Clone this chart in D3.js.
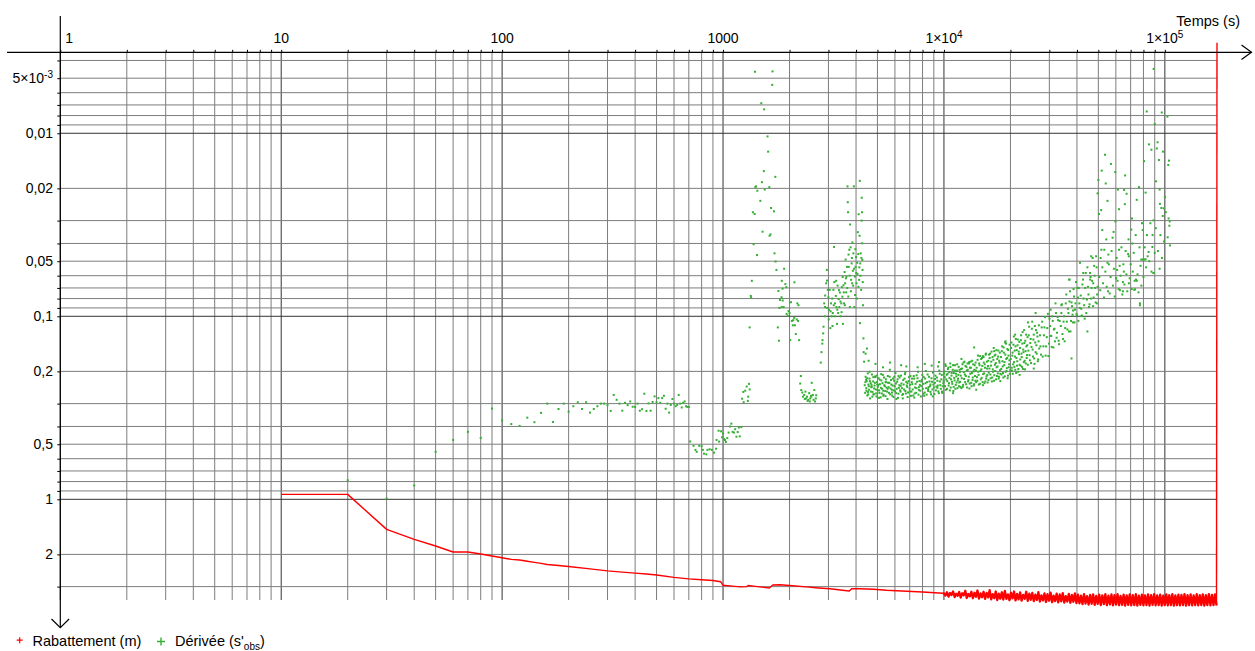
<!DOCTYPE html>
<html>
<head>
<meta charset="utf-8">
<script src="https://cdn.jsdelivr.net/npm/d3@7"></script>
<style>
  body { margin: 0; background: #fff; }
  svg { font-family: "Liberation Sans", Arial, sans-serif; display: block; }
</style>
</head>
<body>
<div id="chart"></div>
<script>
// axes
const xDomain = [1, 172200];
const yDomain = [0.00361, 3.55];
const xTickValues = [1, 10, 100, 1000, 1e4, 1e5];
const xTickLabels = ["1", "10", "100", "1000", "1×10^4", "1×10^5"];
const yTickValues = [0.005, 0.01, 0.02, 0.05, 0.1, 0.2, 0.5, 1, 2];
const yTickLabels = ["5×10^-3", "0,01", "0,02", "0,05", "0,1", "0,2", "0,5", "1", "2"];

// Rabattement (m) : [temps (s), rabattement]
const rabattementDebut = [
  [10,0.94],[20,0.94],[30,1.46],[40,1.655],[50,1.8],[60,1.94],[70,1.94],[80,1.99],[90,2.04],[100,2.085],
  [110,2.13],[120,2.145],[130,2.18],[140,2.21],[150,2.24],[160,2.27],[180,2.3],[200,2.33],[250,2.4],[300,2.46],
  [350,2.5],[400,2.53],[450,2.56],[500,2.59],[600,2.67],[700,2.72],[800,2.75],[900,2.78],[975,2.82],[1000,2.95],
  [1100,2.98],[1200,3.01],[1280,3.0],[1300,2.96],[1400,2.99],[1500,3.02],[1620,3.05],[1680,2.94],[1810,2.93],[2000,2.96],
  [2380,3.01],[2700,3.05],[3050,3.08],[3400,3.13],[3730,3.17],[3820,3.08],[4170,3.08],[4800,3.1],[5500,3.14],[6800,3.18],
  [8000,3.21],[9900,3.26]
];
const rabattementFin = [
  [10000,3.27],[10160,3.36],[10320,3.22],[10490,3.4],[10660,3.25],[10830,3.33],[11000,3.19],[11180,3.42],[11360,3.28],[11540,3.37],
  [11720,3.21],[11910,3.44],[12100,3.26],[12290,3.35],[12490,3.16],[12690,3.46],[12890,3.29],[13100,3.39],[13310,3.2],[13520,3.47],
  [13740,3.24],[13960,3.41],[14180,3.15],[14410,3.49],[14640,3.27],[14870,3.43],[15110,3.2],[15350,3.5],[15600,3.25],[15850,3.44],
  [16100,3.14],[16360,3.52],[16620,3.3],[16890,3.47],[17160,3.19],[17430,3.55],[17710,3.28],[17990,3.49],[18280,3.22],[18570,3.53],
  [18870,3.17],[19170,3.5],[19480,3.31],[19790,3.56],[20110,3.24],[20430,3.48],[20760,3.19],[21090,3.57],[21430,3.29],[21770,3.52],
  [22120,3.23],[22470,3.58],[22830,3.33],[23200,3.5],[23570,3.2],[23950,3.59],[24330,3.28],[24720,3.54],[25110,3.25],[25510,3.6],
  [25920,3.32],[26340,3.55],[26760,3.22],[27190,3.62],[27620,3.35],[28060,3.57],[28510,3.27],[28970,3.64],[29430,3.3],[29900,3.58],
  [30380,3.24],[30870,3.65],[31360,3.36],[31860,3.6],[32370,3.28],[32890,3.66],[33420,3.31],[33950,3.61],[34490,3.26],[35040,3.67],
  [35600,3.38],[36170,3.62],[36750,3.29],[37340,3.68],[37940,3.33],[38540,3.63],[39160,3.27],[39790,3.69],[40420,3.32],[41070,3.7],
  [41730,3.36],[42390,3.74],[43070,3.3],[43760,3.71],[44460,3.38],[45170,3.76],[45890,3.33],[46620,3.72],[47370,3.31],[48130,3.77],
  [48900,3.37],[49680,3.73],[50470,3.32],[51280,3.78],[52100,3.35],[52940,3.74],[53780,3.3],[54640,3.79],[55520,3.36],[56410,3.75],
  [57310,3.31],[58230,3.8],[59160,3.34],[60100,3.76],[61060,3.3],[62040,3.79],[63030,3.37],[64040,3.77],[65070,3.32],[66110,3.81],
  [67170,3.35],[68240,3.77],[69330,3.31],[70440,3.8],[71570,3.34],[72710,3.78],[73880,3.3],[75060,3.81],[76260,3.36],[77480,3.77],
  [78720,3.32],[79980,3.8],[81260,3.35],[82560,3.78],[83880,3.31],[85220,3.81],[86580,3.34],[87970,3.77],[89380,3.3],[90810,3.8],
  [92260,3.35],[93740,3.78],[95240,3.32],[96760,3.81],[98310,3.36],[99880,3.79],[101500,3.31],[103100,3.8],[104700,3.34],[106400,3.78],
  [108100,3.3],[109800,3.81],[111600,3.35],[113400,3.79],[115200,3.32],[117000,3.8],[118900,3.33],[120800,3.78],[122700,3.3],[124700,3.81],
  [126700,3.34],[128700,3.79],[130800,3.31],[132900,3.8],[135000,3.35],[137200,3.78],[139400,3.3],[141600,3.8],[143900,3.34],[146200,3.79],
  [148500,3.31],[150900,3.81],[153300,3.34],[155700,3.78],[158200,3.3],[160800,3.8],[163400,3.33],[166000,3.79],[168600,3.31],[171300,3.8],
  [172200,0.0032]
];

// Dérivée (s'obs) : [temps (s), dérivée]
const deriveeDebut = [
  [20,0.787],[30,0.99],[40,0.84],[50,0.55],[60,0.474],[70,0.428],[80,0.462],[90,0.319],[100,0.371],[110,0.388],
  [120,0.397],[130,0.358],[140,0.379],[150,0.337],[160,0.3],[170,0.378],[180,0.321],[190,0.3],[200,0.332],[210,0.31],
  [220,0.295],[230,0.321],[240,0.295],[250,0.336],[260,0.321],[270,0.31],[280,0.3],[290,0.3],[300,0.306],[310,0.329],
  [320,0.269],[330,0.286],[340,0.3],[350,0.328],[360,0.297],[370,0.306],[380,0.292],[390,0.312],[400,0.313],[410,0.3],
  [420,0.328],[430,0.322],[440,0.265],[450,0.329],[460,0.299],[470,0.328],[480,0.294],[490,0.274],[500,0.295],[510,0.28],
  [520,0.297],[530,0.28],[540,0.272],[550,0.32],[560,0.3],[570,0.336],[580,0.305],[590,0.283],[600,0.3],[610,0.31],
  [620,0.305],[630,0.269],[640,0.3],[650,0.315],[660,0.297],[670,0.292],[680,0.31],[690,0.313],[700,0.313],
  [710,0.483],[735,0.51],[750,0.537],[760,0.55],[780,0.51],[800,0.513],[810,0.537],[820,0.563],[840,0.568],[850,0.537],
  [870,0.533],[890,0.537],[910,0.556],[930,0.529],[935,0.474],[955,0.422],[960,0.484],[980,0.425],[990,0.458],[1000,0.436],
  [1010,0.469],[1020,0.474],[1030,0.486],[1045,0.463],[1060,0.432],[1075,0.4],[1090,0.386],[1105,0.428],[1120,0.432],[1135,0.414],
  [1150,0.455],[1165,0.429],[1180,0.405],[1190,0.453],[1210,0.403],[1220,0.282],[1235,0.259],[1240,0.295],[1260,0.255],[1280,0.242],
  [1295,0.29],[1300,0.275],[1310,0.234],[1320,0.251]
];
const deriveePic1 = [
  [1320,0.115],[1335,0.0774],[1340,0.079],[1350,0.064],[1365,0.027],[1375,0.0404],[1390,0.0276],[1395,0.00461],[1400,0.0197],[1410,0.0195],
  [1425,0.0463],[1430,0.0206],[1475,0.0234],[1490,0.00685],[1500,0.0185],[1510,0.0345],[1530,0.0161],[1535,0.0074],[1545,0.0203],[1590,0.0104],
  [1600,0.0126],[1620,0.0197],[1625,0.0363],[1640,0.0357],[1650,0.0256],[1670,0.00544],[1675,0.00459],[1700,0.0267],[1710,0.0453],[1725,0.0173],
  [1730,0.0502],[1745,0.0558],[1770,0.115],[1780,0.0727],[1790,0.136],[1800,0.09],[1810,0.0814],[1840,0.0787],[1842,0.089],[1845,0.064],
  [1860,0.0706],[1862,0.082],[1880,0.089],[1890,0.055],[1915,0.0667],[1935,0.0693],[1940,0.097],[1965,0.0994],[1980,0.0936],[2000,0.096],
  [2015,0.135],[2030,0.0838],[2050,0.106],[2070,0.112],[2080,0.105],[2100,0.102],[2105,0.0652],[2115,0.112],[2135,0.125],[2155,0.104],
  [2170,0.085],[2185,0.106],[2195,0.087],[2210,0.135],
  [2235,0.233],[2250,0.212],[2260,0.253],[2285,0.261],[2300,0.275],[2330,0.269],[2345,0.283],[2360,0.258],[2375,0.281],[2400,0.275],
  [2415,0.29],[2430,0.286],[2455,0.263],[2470,0.292],[2480,0.281],[2500,0.272],[2510,0.275],[2520,0.231],[2550,0.269],[2570,0.286],
  [2590,0.253],[2610,0.292],[2630,0.281],[2640,0.27]
];
const deriveePic2 = [
  [2770,0.179],[2790,0.157],[2815,0.141],[2820,0.135],[2840,0.124],[2850,0.114],[2870,0.085],[2890,0.1],[2895,0.089],[2930,0.066],
  [2950,0.0558],[2955,0.0638],[2980,0.0717],[3000,0.0787],[3020,0.0923],[3040,0.0717],[3060,0.116],[3080,0.085],[3100,0.1],[3120,0.08],
  [3140,0.096],[3160,0.0717],[3180,0.0418],[3190,0.065],[3210,0.085],[3240,0.0774],[3260,0.089],[3280,0.11],[3300,0.068],[3320,0.096],
  [3340,0.0805],[3360,0.089],[3380,0.0742],[3410,0.1],[3430,0.085],[3450,0.0693],[3470,0.0781],[3490,0.11],[3510,0.0677],[3530,0.085],
  [3550,0.0573],[3570,0.066],[3590,0.049],[3610,0.074],[3620,0.0607],[3640,0.0537],[3660,0.0195],[3670,0.0238],[3680,0.027],[3690,0.078],
  [3710,0.0537],[3730,0.0433],[3750,0.089],[3760,0.0315],[3780,0.042],[3800,0.0632],[3820,0.0514],[3840,0.066],[3850,0.0395],[3870,0.0564],
  [3890,0.0453],[3910,0.0195],[3930,0.089],[3950,0.0607],[3960,0.0765],[3980,0.0537],[4000,0.0475],[4020,0.066],[4040,0.08],[4060,0.0588],
  [4075,0.0347],[4095,0.0457],[4110,0.0277],[4130,0.0632],[4150,0.0363],[4160,0.0182],[4170,0.109],[4180,0.0514],[4200,0.0453],[4220,0.0717],
  [4240,0.03],[4245,0.0225],[4260,0.027],[4265,0.0399],[4270,0.0492],[4280,0.0558],[4290,0.065],[4300,0.087],[4320,0.132],[4330,0.157],
  [4350,0.177],
  [2900,0.077],[2960,0.09],[3010,0.104],[3070,0.094],[3130,0.113],[3170,0.087],[3200,0.1],[3250,0.064],[3290,0.092],[3350,0.072],
  [3400,0.083],[3440,0.095],[3480,0.061],[3520,0.074],[3560,0.087],[3600,0.062],[3650,0.07],[3700,0.046],[3740,0.06],[3790,0.073],
  [3830,0.048],[3880,0.068],[3920,0.055],[3970,0.043],[4010,0.058],[4050,0.051],[4100,0.069],[4140,0.054],[4190,0.06],[4230,0.048]
];
// plateau 4 400 s - 10 000 s
const deriveePalier = [
  [4380,0.238],[4400,0.262],[4420,0.214],[4450,0.247],[4470,0.226],[4500,0.271],[4520,0.205],[4550,0.236],[4580,0.252],[4600,0.219],
  [4630,0.281],[4660,0.232],[4690,0.244],[4720,0.208],[4750,0.259],[4780,0.227],[4810,0.266],[4850,0.239],[4880,0.213],[4910,0.251],
  [4950,0.274],[4980,0.229],[5020,0.243],[5060,0.218],[5100,0.262],[5130,0.235],[5170,0.277],[5210,0.224],[5250,0.249],[5290,0.209],
  [5330,0.268],[5370,0.238],[5420,0.256],[5460,0.221],[5500,0.245],[5550,0.283],[5590,0.231],[5640,0.262],[5680,0.214],[5730,0.248],
  [5780,0.236],[5830,0.271],[5880,0.219],[5930,0.254],[5980,0.241],[6030,0.204],[6080,0.263],[6140,0.228],[6190,0.279],[6250,0.246],
  [6300,0.216],[6360,0.258],[6420,0.233],[6480,0.269],[6540,0.223],[6600,0.251],[6660,0.207],[6720,0.264],[6790,0.239],[6850,0.276],
  [6920,0.226],[6990,0.248],[7050,0.212],[7120,0.258],[7190,0.235],[7260,0.271],[7330,0.219],[7400,0.245],[7480,0.262],[7550,0.228],
  [7630,0.201],[7700,0.253],[7780,0.237],[7860,0.274],[7940,0.222],[8020,0.249],[8100,0.215],[8180,0.261],[8260,0.232],[8350,0.268],
  [8430,0.208],[8520,0.244],[8600,0.227],[8690,0.259],[8780,0.218],[8870,0.251],[8960,0.236],[9050,0.266],[9150,0.211],[9240,0.242],
  [9340,0.225],[9430,0.257],[9530,0.198],[9630,0.238],[9730,0.221],[9830,0.262],[9930,0.232],[10000,0.205],
  [4410,0.229],[4460,0.255],[4490,0.218],[4540,0.267],[4570,0.241],[4620,0.226],[4670,0.258],[4700,0.237],[4740,0.275],[4790,0.215],
  [4830,0.248],[4870,0.231],[4930,0.264],[4970,0.211],[5000,0.253],[5040,0.237],[5080,0.279],[5120,0.222],[5190,0.246],[5230,0.264],
  [5270,0.232],[5310,0.255],[5350,0.216],[5400,0.241],[5440,0.273],[5480,0.229],[5530,0.258],[5570,0.212],[5620,0.244],[5660,0.231],
  [5710,0.267],[5760,0.223],[5810,0.252],[5860,0.239],[5910,0.276],[5960,0.214],[6010,0.257],[6060,0.233],[6110,0.249],[6170,0.221],
  [6220,0.265],[6280,0.238],[6330,0.254],[6390,0.211],[6450,0.247],[6510,0.281],[6570,0.236],[6630,0.219],[6690,0.256],[6750,0.228],
  [6820,0.243],[6880,0.261],[6950,0.215],[7020,0.237],[7090,0.272],[7150,0.229],[7220,0.251],[7300,0.212],[7370,0.264],[7440,0.234],
  [7510,0.247],[7590,0.218],[7670,0.268],[7740,0.226],[7820,0.255],[7900,0.241],[7980,0.209],[8060,0.234],[8140,0.272],[8220,0.219],
  [8310,0.247],[8390,0.229],[8480,0.256],[8560,0.214],[8650,0.241],[8740,0.267],[8830,0.228],[8920,0.203],[9010,0.245],[9100,0.231],
  [9190,0.254],[9290,0.216],[9380,0.239],[9480,0.263],[9580,0.227],[9680,0.249],[9780,0.209],[9880,0.241],[9970,0.225],
  [4440,0.222],[4530,0.259],[4610,0.201],[4710,0.243],[4800,0.268],[4890,0.215],[4990,0.236],[5090,0.254],[5200,0.207],[5320,0.272],
  [5440,0.229],[5560,0.249],[5690,0.196],[5820,0.261],[5950,0.225],[6090,0.283],[6230,0.212],[6370,0.24],[6520,0.266],[6680,0.203],
  [6840,0.232],[7000,0.257],[7170,0.219],[7340,0.278],[7520,0.21],[7700,0.244],[7890,0.227],[8080,0.265],[8280,0.199],[8480,0.25],
  [8690,0.236],[8900,0.274],[9120,0.22],[9340,0.246],[9570,0.206],[9800,0.258],
  [4420,0.16],[4480,0.15],[4560,0.175],[4900,0.182],[5300,0.19],[5700,0.179],[6760,0.188],[8190,0.182],[6400,0.185],[7600,0.19],
  [8800,0.186],[9400,0.188],[9500,0.178]
];
// 10 000 s - 27 000 s
const deriveeRemontee = [
  [10050,0.2],[10110,0.241],[10190,0.187],[10240,0.221],[10330,0.249],[10380,0.206],[10460,0.191],[10540,0.232],[10590,0.217],[10680,0.181],
  [10730,0.245],[10820,0.211],[10870,0.228],[10960,0.196],[11030,0.256],[11090,0.204],[11170,0.224],[11220,0.185],[11310,0.237],[11370,0.213],
  [11440,0.198],[11520,0.247],[11580,0.219],[11660,0.189],[11730,0.23],[11810,0.202],[11870,0.243],[11950,0.194],
  [10080,0.215],[10150,0.183],[10210,0.252],[10290,0.209],[10350,0.226],[10420,0.194],[10500,0.239],[10560,0.202],[10630,0.254],[10700,0.189],
  [10770,0.221],[10840,0.204],[10910,0.234],[10990,0.185],[11060,0.243],[11130,0.217],[11200,0.198],[11260,0.249],[11340,0.206],[11410,0.23],
  [11480,0.183],[11550,0.224],[11620,0.209],[11690,0.241],[11770,0.196],[11840,0.228],[11910,0.211],[11990,0.247],
  [12040,0.218],[12130,0.183],[12210,0.237],[12300,0.202],[12390,0.177],[12470,0.229],[12560,0.212],[12640,0.189],[12730,0.245],[12820,0.196],
  [12900,0.223],[12990,0.181],[13080,0.233],[13160,0.206],[13250,0.191],[13340,0.241],[13420,0.175],[13510,0.216],[13600,0.2],[13690,0.235],
  [13780,0.185],[13870,0.225],[13950,0.198],
  [12080,0.193],[12170,0.243],[12260,0.179],[12340,0.22],[12430,0.208],[12520,0.187],[12600,0.235],[12690,0.198],[12780,0.181],[12860,0.227],
  [12950,0.214],[13040,0.248],[13120,0.191],[13210,0.177],[13290,0.231],[13380,0.204],[13470,0.223],[13560,0.183],[13640,0.239],[13730,0.196],
  [13820,0.212],[13910,0.179],[13990,0.229],
  [14060,0.191],[14160,0.225],[14250,0.164],[14350,0.209],[14440,0.181],[14540,0.234],[14630,0.199],[14730,0.171],[14820,0.217],[14920,0.187],
  [15010,0.238],[15110,0.167],[15200,0.205],[15300,0.183],[15390,0.227],[15490,0.16],[15580,0.213],[15680,0.193],[15770,0.23],[15870,0.175],
  [15960,0.203],
  [14110,0.215],[14200,0.173],[14300,0.201],[14390,0.236],[14490,0.185],[14580,0.165],[14680,0.221],[14770,0.195],[14870,0.169],[14960,0.229],
  [15060,0.207],[15150,0.179],[15250,0.232],[15340,0.191],[15440,0.162],[15530,0.219],[15630,0.177],[15720,0.209],[15820,0.187],[15910,0.223],
  [16060,0.193],[16170,0.16],[16270,0.218],[16380,0.177],[16480,0.227],[16590,0.167],[16690,0.201],[16800,0.149],[16900,0.21],[17010,0.184],
  [17110,0.162],[17220,0.221],[17320,0.19],[17430,0.171],[17530,0.205],[17640,0.154],[17740,0.214],[17850,0.179],[17950,0.197],
  [16110,0.169],[16220,0.208],[16320,0.186],[16430,0.156],[16530,0.216],[16640,0.195],[16740,0.173],[16850,0.225],[16950,0.164],[17060,0.199],
  [17160,0.18],[17270,0.153],[17370,0.212],[17480,0.188],[17580,0.166],[17690,0.219],[17790,0.175],[17900,0.158],[18000,0.206],
  [18110,0.167],[18220,0.208],[18340,0.146],[18450,0.188],[18570,0.216],[18680,0.158],[18800,0.178],[18910,0.139],[19030,0.201],[19140,0.171],
  [19260,0.192],[19370,0.151],[19490,0.211],[19600,0.164],[19720,0.183],[19830,0.143],[19950,0.197],
  [18170,0.194],[18280,0.155],[18400,0.176],[18510,0.204],[18630,0.148],[18740,0.185],[18860,0.213],[18970,0.162],[19090,0.141],[19200,0.199],
  [19320,0.169],[19430,0.218],[19550,0.153],[19660,0.19],[19780,0.174],[19890,0.206],
  [20070,0.171],[20200,0.139],[20320,0.198],[20450,0.158],[20580,0.183],[20710,0.129],[20840,0.189],[20960,0.166],[21090,0.146],[21220,0.204],
  [21350,0.153],[21480,0.176],[21600,0.134],[21730,0.194],[21860,0.161],[21990,0.184],
  [20130,0.149],[20260,0.191],[20390,0.164],[20510,0.206],[20640,0.143],[20770,0.178],[20900,0.154],[21030,0.196],[21160,0.133],[21280,0.169],
  [21410,0.186],[21540,0.144],[21670,0.201],[21800,0.156],[21930,0.138],
  [22080,0.149],[22220,0.186],[22360,0.127],[22500,0.167],[22640,0.141],[22780,0.194],[22920,0.157],[23060,0.119],[23200,0.175],[23340,0.136],
  [23480,0.181],[23620,0.146],[23760,0.163],[23900,0.13],
  [22150,0.172],[22290,0.135],[22430,0.16],[22570,0.189],[22710,0.122],[22850,0.152],[22990,0.178],[23130,0.14],[23270,0.195],[23410,0.155],
  [23550,0.126],[23690,0.169],[23830,0.144],[23970,0.184],
  [24100,0.154],[24300,0.114],[24500,0.174],[24700,0.133],[24900,0.147],[25100,0.107],[25300,0.166],[25500,0.126],[25700,0.182],[25900,0.139],
  [26100,0.119],[26300,0.16],[26500,0.129],[26700,0.172],[26900,0.112],
  [24200,0.127],[24400,0.163],[24600,0.14],[24800,0.18],[25000,0.117],[25200,0.152],[25400,0.134],[25600,0.17],[25800,0.113],[26000,0.157],
  [26200,0.144],[26400,0.123],[26600,0.176],[26800,0.137],[27000,0.15],
  [11000,0.263],[12000,0.171],[13000,0.178],[13700,0.148],[14000,0.252],[15000,0.165],[16000,0.162],[16900,0.155],[18000,0.226],[19000,0.137],
  [21000,0.126],[22000,0.209],[24000,0.108],[25500,0.193],[26000,0.096]
];
// 27 000 s - fin
const deriveeMontee = [
  [27200,0.127],[27500,0.162],[27850,0.107],[28200,0.146],[28500,0.115],[28850,0.164],[29200,0.13],[29550,0.097],[29900,0.141],[30250,0.113],
  [30600,0.128],[30950,0.1],[31300,0.148],[31650,0.117],[32000,0.085],[32350,0.131],[32700,0.101],[33050,0.136],[33400,0.106],
  [27350,0.146],[27700,0.115],[28000,0.166],[28350,0.127],[28700,0.101],[29000,0.146],[29350,0.116],[29700,0.165],[30050,0.103],[30400,0.128],
  [30750,0.147],[31100,0.106],[31450,0.118],[31800,0.137],[32150,0.096],[32500,0.123],[32850,0.105],[33200,0.142],
  [33800,0.113],[34200,0.086],[34600,0.133],[35000,0.1],[35400,0.116],[35800,0.076],[36200,0.118],[36600,0.096],[37000,0.083],[37400,0.121],
  [37800,0.084],[38200,0.098],[38600,0.071],[39000,0.108],[39400,0.085],[39800,0.097],[40200,0.07],[40600,0.106],[41000,0.085],
  [34000,0.096],[34400,0.125],[34800,0.107],[35200,0.137],[35600,0.085],[36000,0.107],[36400,0.091],[36800,0.121],[37200,0.073],[37600,0.106],
  [38000,0.088],[38400,0.108],[38800,0.078],[39200,0.092],[39600,0.065],[40000,0.099],[40400,0.079],[40800,0.07],[41200,0.09],
  [41600,0.077],[42100,0.099],[42600,0.063],[43100,0.087],[43600,0.07],[44100,0.096],[44600,0.054],[45100,0.076],[45600,0.086],[46100,0.061],
  [46600,0.07],[47100,0.048],[47600,0.079],[48100,0.06],[48600,0.084],[49100,0.054],[49600,0.069],
  [41850,0.091],[42350,0.067],[42850,0.08],[43350,0.103],[43850,0.058],[44350,0.081],[44850,0.069],[45350,0.089],[45850,0.058],[46350,0.08],
  [46850,0.064],[47350,0.088],[47850,0.053],[48350,0.07],[48850,0.047],[49350,0.076],
  [30400,0.092],[34000,0.087],[37000,0.063],[37800,0.17],[38400,0.093],[42700,0.058],[46400,0.047],[47400,0.066],[45900,0.063],[41300,0.051],
  [36900,0.063],[49200,0.085],[44600,0.121],[42000,0.0998],
  [49600,0.0213],[50000,0.018],[50300,0.0276],[51500,0.0263],[51800,0.016],[53600,0.0131],[54000,0.0188],[55000,0.0234],[57000,0.0147],[59600,0.0163],
  [61300,0.0203],[62000,0.026],[65400,0.0204],[65900,0.0244],[66100,0.017],[67100,0.0214],[74600,0.0231],[76400,0.0197],[80500,0.0142],[81800,0.0211],
  [82800,0.0076],[84700,0.0115],[86900,0.0123],[88800,0.0299],[89000,0.00445],[90000,0.0089],[91300,0.0183],[92000,0.0121],[92700,0.0112],[94000,0.014],
  [94700,0.0203],[95000,0.0243],[96400,0.0256],[96800,0.0077],[97800,0.0283],[98800,0.0257],[100000,0.0223],[102700,0.0081],[103600,0.0149],[104000,0.0292],
  [104400,0.0141],[105200,0.0303],[98000,0.0126],[71000,0.0292],[59700,0.0303],[58600,0.0346],[58000,0.0372],[54300,0.038],[51600,0.0433],[52100,0.0338],
  [70500,0.0336],[79400,0.0338],[87800,0.0418],[84400,0.0445],[94700,0.055],[88800,0.058],[81800,0.0488],[79200,0.049],[77100,0.087],[73300,0.0712],
  [64600,0.065],[74600,0.064],[78300,0.068],[60100,0.062],[68700,0.047],[71300,0.04],[62000,0.0433],[55000,0.051],[60800,0.0558],[52100,0.054],
  [53200,0.0433],[55500,0.046],[55300,0.073],[60200,0.062],[62600,0.072],[64600,0.073],[65200,0.057],[68200,0.0457],[68700,0.066],[72700,0.0717],
  [74000,0.063],[77100,0.085],[78200,0.049],[80800,0.049],[83600,0.047],[89000,0.058],
  [50500,0.061],[51000,0.072],[51200,0.048],[52500,0.066],[53000,0.079],[53800,0.057],[54500,0.069],[55800,0.052],[56300,0.075],[56800,0.061],
  [57400,0.044],[58200,0.068],[58800,0.055],[59300,0.078],[60500,0.048],[61000,0.064],[61800,0.071],[62400,0.053],[63000,0.06],[63600,0.042],
  [64200,0.076],[64900,0.052],[65600,0.067],[66400,0.044],[67000,0.059],[67600,0.073],[68500,0.038],[69300,0.062],[70000,0.052],[70800,0.071],
  [71600,0.057],[72300,0.045],[73000,0.064],[73800,0.036],[75200,0.059],[76000,0.074],[76800,0.042],[77600,0.053],[78800,0.031],[80000,0.061],
  [81000,0.042],[82200,0.054],[83000,0.036],[85000,0.05],[86000,0.031],[87000,0.057],[88000,0.036],[90000,0.045],[91000,0.033],[93000,0.044],
  [95500,0.036],[97000,0.048],[99000,0.039],[101000,0.027],[103000,0.037],[104800,0.032],[105500,0.041]
];

const width = 1255, height = 651;
const plot = { left: 60.3, right: 1217, top: 52.3, bottom: 600 };
const red = "#ff0000", green = "#33b033";

const x = d3.scaleLog().domain(xDomain).range([plot.left, plot.right]);
const y = d3.scaleLog().domain(yDomain).range([plot.top, plot.bottom]);

// 1..9 x 10^n inside the domain
function gridValues(domain) {
  var vals = [];
  for (var e = Math.floor(Math.log10(domain[0])); e <= Math.ceil(Math.log10(domain[1])); e++) {
    for (var k = 1; k < 10; k++) {
      var v = +(k * Math.pow(10, e)).toPrecision(3);
      if (v >= domain[0] && v <= domain[1]) vals.push(v);
    }
  }
  return vals;
}
function isDecade(v) {
  return Math.abs(Math.log10(v) - Math.round(Math.log10(v))) < 1e-6;
}

const xGrid = gridValues(xDomain);
const yGrid = gridValues(yDomain);

const svg = d3.select("#chart").append("svg")
  .attr("width", width)
  .attr("height", height);

// grid
svg.append("g").selectAll("line").data(xGrid).enter().append("line")
  .attr("x1", d => x(d)).attr("x2", d => x(d))
  .attr("y1", plot.top).attr("y2", plot.bottom)
  .attr("stroke", d => isDecade(d) ? "#333" : "#7d7d7d")
  .attr("stroke-width", 1);

svg.append("g").selectAll("line").data(yGrid).enter().append("line")
  .attr("x1", plot.left).attr("x2", plot.right)
  .attr("y1", d => y(d)).attr("y2", d => y(d))
  .attr("stroke", d => isDecade(d) ? "#333" : "#7d7d7d")
  .attr("stroke-width", 1);

// tick marks
const xAxis = svg.append("g")
  .attr("transform", "translate(0," + plot.top + ")")
  .call(d3.axisTop(x).tickValues(xGrid).tickSize(2.5).tickFormat(""));
const yAxis = svg.append("g")
  .attr("transform", "translate(" + plot.left + ",0)")
  .call(d3.axisLeft(y).tickValues(yGrid).tickSize(3).tickFormat(""));
[xAxis, yAxis].forEach(function(a) {
  a.select(".domain").remove();
  a.selectAll(".tick line").attr("stroke", "#000");
});

// derivative points
const derivee = deriveeDebut.concat(deriveePic1, deriveePic2, deriveePalier, deriveeRemontee, deriveeMontee);
svg.append("g").selectAll("rect").data(derivee).enter().append("rect")
  .attr("x", d => x(d[0]) - 1)
  .attr("y", d => y(d[1]) - 1)
  .attr("width", 2)
  .attr("height", 2)
  .attr("fill", green);

// drawdown line; the noisy tail is thicker so it fills like the dense original,
// the last jump back to the top stays thin
const line = d3.line().x(d => x(d[0])).y(d => y(d[1]));
const tail = rabattementDebut.slice(-1).concat(rabattementFin);
const parts = [
  [rabattementDebut, 1.4],
  [tail.slice(0, -1), 2.3],
  [tail.slice(-2), 1.4]
];
parts.forEach(function(p) {
  svg.append("path")
    .datum(p[0])
    .attr("d", line)
    .attr("fill", "none")
    .attr("stroke", red)
    .attr("stroke-width", p[1])
    .attr("stroke-linejoin", "round");
});

// axis lines with arrows
svg.append("line").attr("x1", 7).attr("x2", 1251.5)
  .attr("y1", plot.top).attr("y2", plot.top)
  .attr("stroke", "#000").attr("stroke-width", 1.2);
svg.append("path").attr("d", "M1241.5,45L1251.5,52.3L1241.5,59.6")
  .attr("fill", "none").attr("stroke", "#000").attr("stroke-width", 1.2);
svg.append("line").attr("x1", plot.left).attr("x2", plot.left)
  .attr("y1", 16).attr("y2", 627.5)
  .attr("stroke", "#000").attr("stroke-width", 1.2);
svg.append("path").attr("d", "M51.5,619L60.3,627.7L69.1,619")
  .attr("fill", "none").attr("stroke", "#000").attr("stroke-width", 1.2);

// label with "^" exponent written as superscript
function addLabel(sel, label) {
  var parts = label.split("^");
  sel.append("tspan").text(parts[0]);
  if (parts.length > 1) {
    sel.append("tspan").attr("font-size", 10).attr("dy", -5).text(parts[1]);
  }
}

svg.append("g").selectAll("text").data(xTickValues).enter().append("text")
  .attr("x", (d, i) => i == 0 ? x(d) + 5 : x(d))
  .attr("y", 42.5)
  .attr("text-anchor", (d, i) => i == 0 ? "start" : "middle")
  .attr("font-size", 14)
  .attr("fill", "#000")
  .each(function(d, i) { addLabel(d3.select(this), xTickLabels[i]); });

svg.append("g").selectAll("text").data(yTickValues).enter().append("text")
  .attr("x", 53)
  .attr("y", d => y(d) + 5)
  .attr("text-anchor", "end")
  .attr("font-size", 14)
  .attr("fill", "#000")
  .each(function(d, i) { addLabel(d3.select(this), yTickLabels[i]); });

svg.append("text")
  .attr("x", 1240).attr("y", 26)
  .attr("text-anchor", "end")
  .attr("font-size", 14.5)
  .text("Temps (s)");

// legend
const legend = svg.append("g");
legend.append("path").attr("d", "M16.7,640.2H22.7M19.7,637.2V643.2")
  .attr("stroke", red).attr("stroke-width", 1.2);
legend.append("text").attr("x", 32.5).attr("y", 645.5)
  .attr("font-size", 14.5).text("Rabattement (m)");
legend.append("path").attr("d", "M157,641.5H165M161,637.5V645.5")
  .attr("stroke", green).attr("stroke-width", 1.4);
const derLabel = legend.append("text").attr("x", 175).attr("y", 645.5).attr("font-size", 14.5);
derLabel.append("tspan").text("Dérivée (s'");
derLabel.append("tspan").attr("font-size", 10).attr("dy", 4).text("obs");
derLabel.append("tspan").attr("dy", -4).text(")");
</script>
</body>
</html>
